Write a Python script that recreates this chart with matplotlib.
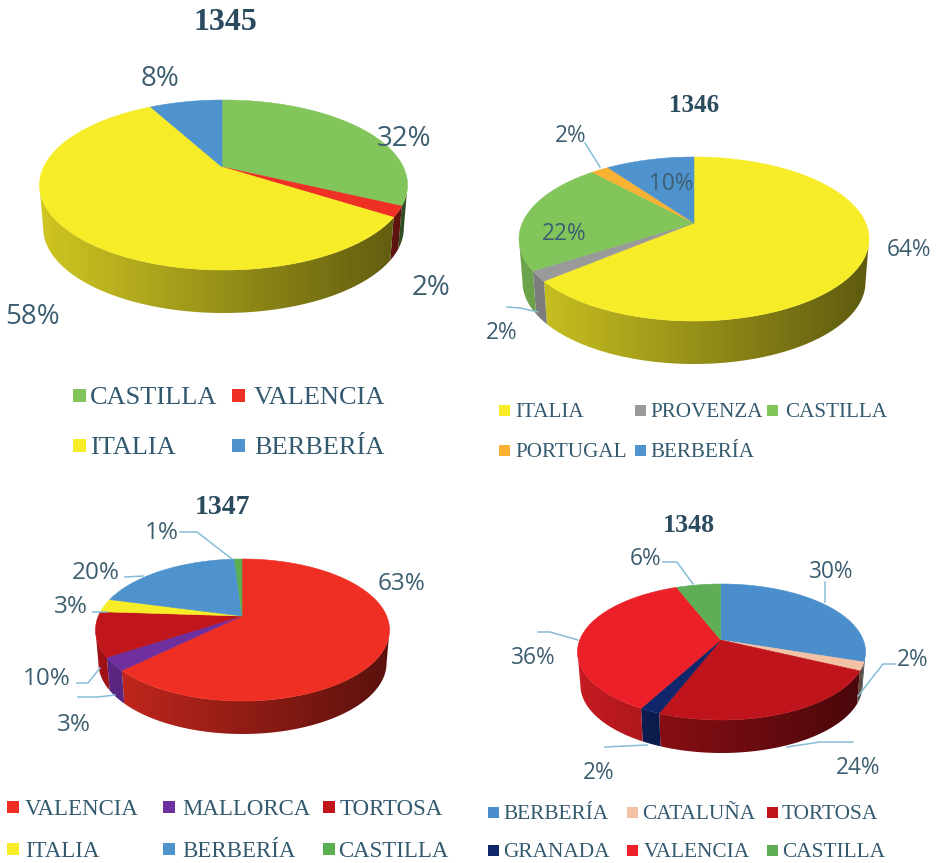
import numpy as np
import matplotlib
matplotlib.use("Agg")
import matplotlib.pyplot as plt
from matplotlib.colors import to_rgb
from matplotlib.patches import Polygon, Rectangle

# values
labels_1345 = ["CASTILLA", "VALENCIA", "ITALIA", "BERBERÍA"]
values_1345 = [32, 2, 58, 8]
colors_1345 = ["#82c55b", "#ee3124", "#f7ec28", "#4f93ce"]

labels_1346 = ["ITALIA", "PROVENZA", "CASTILLA", "PORTUGAL", "BERBERÍA"]
values_1346 = [64, 2, 22, 2, 10]
colors_1346 = ["#f7ec28", "#9a9a9a", "#82c55b", "#f9b233", "#4f93ce"]

labels_1347 = ["VALENCIA", "MALLORCA", "TORTOSA", "ITALIA", "BERBERÍA", "CASTILLA"]
values_1347 = [63, 3, 10, 3, 20, 1]
colors_1347 = ["#ef2f23", "#6f2f9f", "#c0161b", "#f7ec28", "#4f93ce", "#5aaf50"]

labels_1348 = ["BERBERÍA", "CATALUÑA", "TORTOSA", "GRANADA", "VALENCIA", "CASTILLA"]
values_1348 = [30, 2, 24, 2, 36, 6]
colors_1348 = ["#4a8fcb", "#f3c1a5", "#bf141c", "#12266b", "#ec2028", "#5fae57"]

LABEL_COLOR = "#3d5e70"
LEGEND_COLOR = "#33596f"
TITLE_COLOR = "#2a4a5e"
LEADER_COLOR = "#86bcd6"


def rim_points(frac, cx, cy, rx, ry, apex_x, apex_y):
    # ray from the apex to the outer ellipse, the apex sits off centre (perspective)
    a = 2 * np.pi * frac
    du, dv = np.sin(a), -np.cos(a)
    u0, v0 = (apex_x - cx) / rx, (apex_y - cy) / ry
    b = u0 * du + v0 * dv
    c = u0 ** 2 + v0 ** 2 - 1
    s = -b + np.sqrt(b ** 2 - c)
    return u0 + s * du, v0 + s * dv


def draw_pie(ax, values, colors, cx, cy, rx, ry, apex_x, apex_y, depth):
    edges = np.cumsum([0] + values) / sum(values)
    shade = np.linspace(0.84, 0.38, 256)
    for i, col in enumerate(colors):
        fr = np.linspace(edges[i], edges[i + 1], max(int(values[i] * 8), 6))
        u, v = rim_points(fr, cx, cy, rx, ry, apex_x, apex_y)
        x, y = cx + rx * u, cy + ry * v

        # side wall, darker to the right, bottom edge a little narrower
        front = v >= 0
        if front.sum() > 1:
            xf, yf = x[front], y[front]
            xb = cx + 0.98 * (xf - cx)
            wall = np.c_[np.r_[xf, xb[::-1]], np.r_[yf, yf[::-1] + depth]]
            grad = np.outer(shade, to_rgb(col))[np.newaxis, :, :]
            im = ax.imshow(grad, extent=(cx - rx, cx + rx, cy + ry + depth, cy), aspect="auto",
                           interpolation="bilinear", zorder=2)
            im.set_clip_path(Polygon(wall, closed=True, transform=ax.transData))
        ax.fill(np.r_[apex_x, x], np.r_[apex_y, y], color=col, lw=0.4, zorder=3)


def draw_legend(ax, entries, colors, size, box):
    for (label, sx, tx, y), col in zip(entries, colors):
        ax.add_patch(Rectangle((sx, y - box / 2), box, box, color=col, lw=0, zorder=3))
        ax.text(tx, y, label, fontsize=size, family="Liberation Serif", color=LEGEND_COLOR,
                ha="left", va="center_baseline")


def draw_labels(ax, texts, values, size):
    for (x, y), v in zip(texts, values):
        ax.text(x, y + 1.5, f"{v}%", fontsize=size, family="Open Sans", color=LABEL_COLOR,
                ha="center", va="center", zorder=5)


def draw_title(ax, x, y, text, size):
    ax.text(x, y + 2, text, fontsize=size, fontweight="bold", family="Liberation Serif",
            color=TITLE_COLOR, ha="center", va="center")


fig = plt.figure(figsize=(9.37, 8.63), dpi=100)
ax = fig.add_axes([0, 0, 1, 1])

# 1345
draw_pie(ax, values_1345, colors_1345, 223.5, 185, 184, 85, 222, 167, 43)
draw_title(ax, 225, 20, "1345", 23)
draw_labels(ax, [(404, 137), (431, 286), (33, 315), (160, 77)], values_1345, 20)
draw_legend(ax, [(labels_1345[0], 73, 90, 395), (labels_1345[1], 232, 254, 395),
                 (labels_1345[2], 73, 90, 445), (labels_1345[3], 232, 254, 445)],
            colors_1345, 19, 13)

# 1346
draw_pie(ax, values_1346, colors_1346, 694, 239, 175, 82, 694, 223, 43)
draw_title(ax, 694, 104, "1346", 18)
draw_labels(ax, [(909, 248), (502, 331), (564, 232), (571, 134), (671, 182)], values_1346, 16.3)
draw_legend(ax, [(labels_1346[0], 499, 515, 410), (labels_1346[1], 635, 650, 410),
                 (labels_1346[2], 767, 785, 410), (labels_1346[3], 499, 515, 450),
                 (labels_1346[4], 635, 650, 450)],
            colors_1346, 15.2, 11)

# 1347
draw_pie(ax, values_1347, colors_1347, 242.5, 630, 147, 71, 242, 616, 33)
draw_title(ax, 223, 505, "1347", 20)
draw_labels(ax, [(402, 582), (74, 723), (47, 677), (71, 605), (96, 571), (162, 531)], values_1347, 17.5)
draw_legend(ax, [(labels_1347[0], 7, 25, 807), (labels_1347[1], 163, 182, 807),
                 (labels_1347[2], 323, 340, 807), (labels_1347[3], 7, 25, 849),
                 (labels_1347[4], 163, 182, 849), (labels_1347[5], 323, 338, 849)],
            colors_1347, 16.5, 12)

# 1348
draw_pie(ax, values_1348, colors_1348, 721.5, 652, 144, 68, 720.7, 640, 33)
draw_title(ax, 689, 523, "1348", 18.7)
draw_labels(ax, [(831, 570), (913, 658), (858, 766), (599, 771), (533, 656), (646, 557)], values_1348, 16.3)
draw_legend(ax, [(labels_1348[0], 488, 503, 812), (labels_1348[1], 627, 642, 812),
                 (labels_1348[2], 767, 782, 812), (labels_1348[3], 488, 503, 850),
                 (labels_1348[4], 627, 644, 850), (labels_1348[5], 767, 782, 850)],
            colors_1348, 15.4, 11)

# leader lines
leaders = [
    [(585, 143), (600, 167)],
    [(507, 307), (520, 308), (538, 312)],
    [(180, 532), (197, 532), (232, 559)],
    [(125, 577), (143, 576)],
    [(93, 612), (107, 612)],
    [(77, 683), (88, 683), (100, 668)],
    [(78, 697), (98, 697), (115, 695)],
    [(663, 562), (677, 562), (693, 584)],
    [(825, 582), (825, 602)],
    [(895, 664), (883, 664), (858, 696)],
    [(538, 632), (550, 632), (578, 640)],
    [(605, 747), (647, 745)],
    [(853, 742), (820, 742), (787, 747)],
]
for line in leaders:
    xs, ys = zip(*line)
    ax.plot(xs, ys, color=LEADER_COLOR, lw=1.1, zorder=4)

ax.set_xlim(0, 937)
ax.set_ylim(863, 0)
ax.axis("off")

fig.savefig("out.png", dpi=100)
